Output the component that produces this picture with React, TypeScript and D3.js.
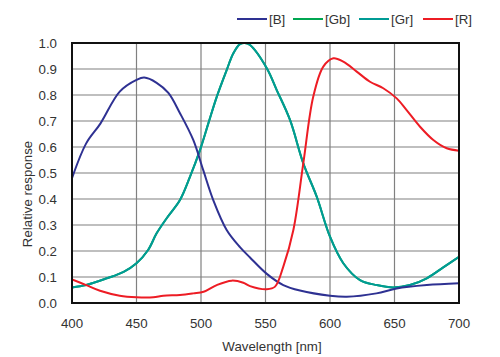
import React from "react";
import * as d3 from "d3";

const seriesNames = ["[B]", "[Gb]", "[Gr]", "[R]"];
const seriesColors = ["#2e3192", "#00a651", "#009b95", "#ed1c24"];

const bData: [number, number][] = [
  [400, 0.48], [411, 0.614], [422, 0.69], [437, 0.813], [450, 0.858], [456, 0.867],
  [465.6, 0.847], [474.7, 0.808], [483.7, 0.73], [494, 0.627], [501.8, 0.51],
  [509.5, 0.396], [519.9, 0.281], [530.2, 0.215], [538, 0.175], [551, 0.112],
  [563.8, 0.069], [576.7, 0.048], [600, 0.028], [613, 0.024], [636, 0.037],
  [651.7, 0.056], [675, 0.069], [700, 0.076],
];

const grData: [number, number][] = [
  [400, 0.06], [411, 0.069], [427, 0.095], [440, 0.12], [450, 0.153], [459, 0.204],
  [465.6, 0.268], [473.4, 0.326], [483.7, 0.396], [491.5, 0.486], [499.2, 0.588],
  [505.7, 0.691], [512.2, 0.793], [519.9, 0.896], [525, 0.96], [530.2, 0.996],
  [534, 1.0], [538, 0.992], [551, 0.903], [558.7, 0.819], [569, 0.704],
  [579.3, 0.537], [589.7, 0.409], [600, 0.255], [610.3, 0.153], [623.3, 0.088],
  [636.2, 0.069], [649, 0.06], [662, 0.069], [675, 0.095], [687.8, 0.137], [700, 0.178],
];

const gbData: [number, number][] = grData.map((d) => [d[0], d[1]] as [number, number]);

const rData: [number, number][] = [
  [400, 0.091], [411, 0.069], [421.7, 0.047], [437, 0.028], [450, 0.022], [463, 0.022],
  [470.8, 0.028], [483.7, 0.031], [494, 0.037], [502, 0.043], [512.2, 0.069],
  [523.8, 0.086], [532.8, 0.078], [538, 0.065], [551, 0.053], [557.4, 0.063],
  [563.8, 0.14], [571.6, 0.281], [579.3, 0.537], [587, 0.793], [594.8, 0.909],
  [602.6, 0.941], [610.3, 0.928], [620.7, 0.89], [631, 0.851], [641.3, 0.826],
  [651.7, 0.787], [659.4, 0.742], [669.8, 0.678], [680.1, 0.627], [690.5, 0.595],
  [700, 0.586],
];

const xTicks = [400, 450, 500, 550, 600, 650, 700];
const yTicks = [0, 0.1, 0.2, 0.3, 0.4, 0.5, 0.6, 0.7, 0.8, 0.9, 1.0];

export default function App() {
  const W = 500, H = 357;
  const L = 72, R = 459, T = 43, B = 303;
  const x = d3.scaleLinear().domain([400, 700]).range([L, R]);
  const y = d3.scaleLinear().domain([0, 1]).range([B, T]);
  const line = d3
    .line<[number, number]>()
    .x((d) => x(d[0]))
    .y((d) => y(d[1]))
    .curve(d3.curveCatmullRom.alpha(0.5));
  const series = [bData, gbData, grData, rData];
  const drawOrder = [1, 2, 0, 3];
  const font = "'Liberation Sans', Arial, sans-serif";
  const legendX = [237, 293, 359, 423];

  return (
    <svg width={W} height={H} style={{ position: "absolute", left: 0, top: 0 }} fontFamily={font}>
      <rect width={W} height={H} fill="#fff" />
      {xTicks.slice(1, -1).map((t) => (
        <line key={"gx" + t} x1={x(t)} x2={x(t)} y1={T} y2={B} stroke="#808080" strokeWidth={1.2} />
      ))}
      {yTicks.slice(1, -1).map((t) => (
        <line key={"gy" + t} x1={L} x2={R} y1={y(t)} y2={y(t)} stroke="#808080" strokeWidth={1.2} />
      ))}
      <defs>
        <clipPath id="plot">
          <rect x={L} y={T - 2} width={R - L} height={B - T + 2} />
        </clipPath>
      </defs>
      <g clipPath="url(#plot)">
        {drawOrder.map((i) => (
          <path key={i} d={line(series[i]) || ""} fill="none" stroke={seriesColors[i]} strokeWidth={2} />
        ))}
      </g>
      <rect x={L} y={T} width={R - L} height={B - T} fill="none" stroke="#111" strokeWidth={2} />
      {yTicks.map((t) => (
        <text key={"ty" + t} x={57} y={y(t)} dy="0.35em" textAnchor="end" fontSize={13.3} fill="#333">
          {t.toFixed(1)}
        </text>
      ))}
      {xTicks.map((t) => (
        <text key={"tx" + t} x={x(t)} y={323} dy="0.35em" textAnchor="middle" fontSize={13.3} fill="#333">
          {t}
        </text>
      ))}
      <text x={272} y={346} dy="0.35em" textAnchor="middle" fontSize={13.3} fill="#333">
        Wavelength [nm]
      </text>
      <text transform={`translate(27,194) rotate(-90)`} dy="0.35em" textAnchor="middle" fontSize={13.3} fill="#333">
        Relative response
      </text>
      {seriesNames.map((n, i) => (
        <g key={n}>
          <line x1={legendX[i]} x2={legendX[i] + 30} y1={19} y2={19} stroke={seriesColors[i]} strokeWidth={2} />
          <text x={legendX[i] + 32} y={19} dy="0.35em" fontSize={13.3} fill="#333">
            {n}
          </text>
        </g>
      ))}
    </svg>
  );
}
